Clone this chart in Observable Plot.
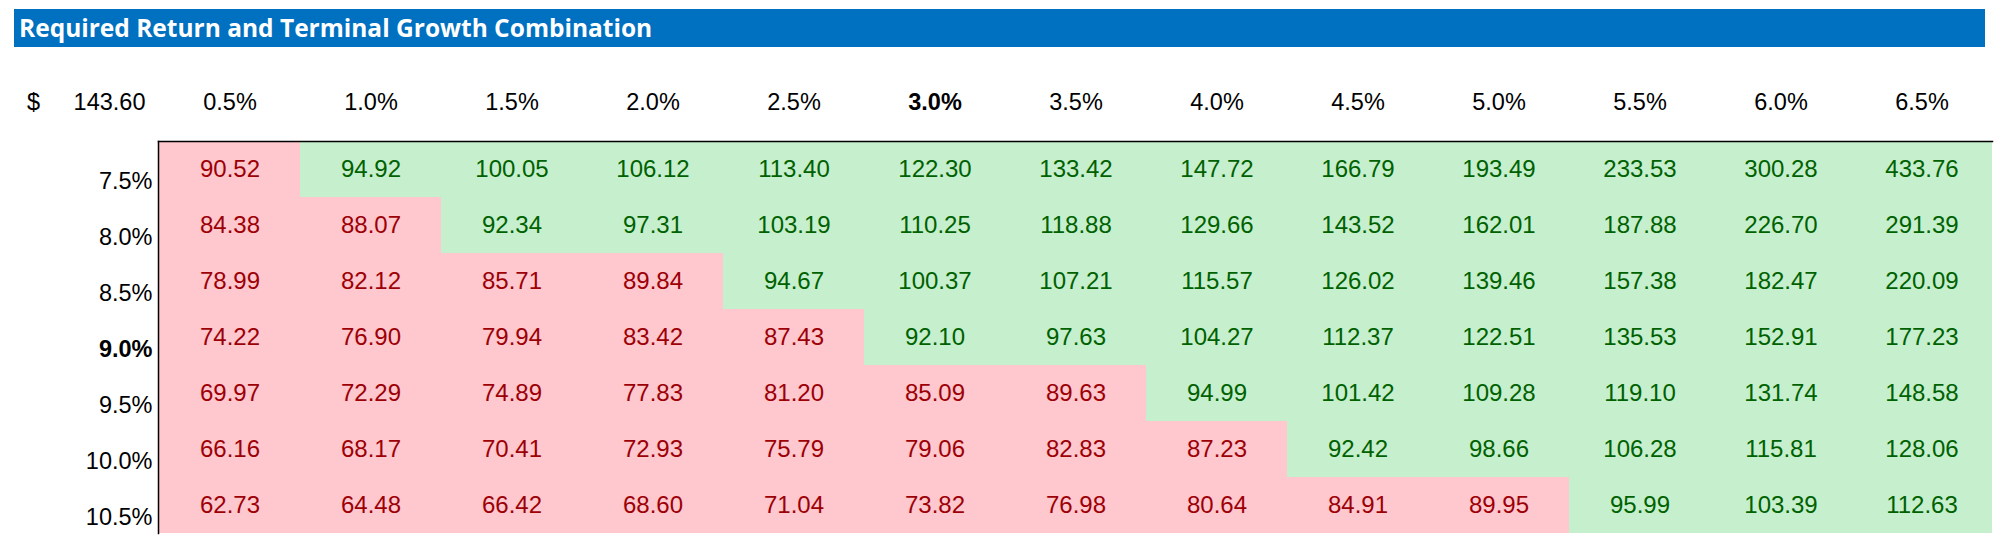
<!DOCTYPE html>
<html>
<head>
<meta charset="utf-8">
<script src="https://cdn.jsdelivr.net/npm/d3@7"></script>
<script src="https://cdn.jsdelivr.net/npm/@observablehq/plot@0.6"></script>
<style>
  html, body { margin: 0; padding: 0; background: #ffffff; }
  #title {
    margin: 9px 14px 0 14px;
    height: 38px;
    background: #0070C0;
    color: #ffffff;
    font-family: "Open Sans", sans-serif;
    font-weight: 700;
    font-size: 24.5px;
    line-height: 38px;
    padding-left: 5px;
    white-space: nowrap;
    overflow: hidden;
  }
  #chart svg { display: block; }
</style>
</head>
<body>
<div id="title">Required Return and Terminal Growth Combination</div>
<div id="chart"></div>
<script>
// Terminal growth rates (columns)
const growthRates = ["0.5%", "1.0%", "1.5%", "2.0%", "2.5%", "3.0%", "3.5%", "4.0%", "4.5%", "5.0%", "5.5%", "6.0%", "6.5%"];
// Required returns (rows)
const requiredReturns = ["7.5%", "8.0%", "8.5%", "9.0%", "9.5%", "10.0%", "10.5%"];
// Base case (bold)
const baseGrowth = "3.0%";
const baseReturn = "9.0%";
// Corner cell
const cornerLabels = ["$", "143.60"];
// Threshold separating red and green cells
const priceThreshold = 91;

// Values per required return row
const row75  = [90.52, 94.92, 100.05, 106.12, 113.40, 122.30, 133.42, 147.72, 166.79, 193.49, 233.53, 300.28, 433.76];
const row80  = [84.38, 88.07, 92.34, 97.31, 103.19, 110.25, 118.88, 129.66, 143.52, 162.01, 187.88, 226.70, 291.39];
const row85  = [78.99, 82.12, 85.71, 89.84, 94.67, 100.37, 107.21, 115.57, 126.02, 139.46, 157.38, 182.47, 220.09];
const row90  = [74.22, 76.90, 79.94, 83.42, 87.43, 92.10, 97.63, 104.27, 112.37, 122.51, 135.53, 152.91, 177.23];
const row95  = [69.97, 72.29, 74.89, 77.83, 81.20, 85.09, 89.63, 94.99, 101.42, 109.28, 119.10, 131.74, 148.58];
const row100 = [66.16, 68.17, 70.41, 72.93, 75.79, 79.06, 82.83, 87.23, 92.42, 98.66, 106.28, 115.81, 128.06];
const row105 = [62.73, 64.48, 66.42, 68.60, 71.04, 73.82, 76.98, 80.64, 84.91, 89.95, 95.99, 103.39, 112.63];

const rows = [row75, row80, row85, row90, row95, row100, row105];

const table = [];
rows.forEach((vals, i) => {
  vals.forEach((v, j) => {
    table.push({ ret: requiredReturns[i], growth: growthRates[j], value: v });
  });
});

const PINK = "#FFC7CE", GREEN = "#C6EFCE", RED_TXT = "#9C0006", GREEN_TXT = "#006100";
const font = "Liberation Sans, Arial, sans-serif";
const labelSize = 23.5;

const chart = Plot.plot({
  width: 1999,
  height: 499,
  marginTop: 94,
  marginBottom: 13,
  marginLeft: 158,
  marginRight: 7,
  x: { type: "band", domain: growthRates, padding: 0, axis: null },
  y: { type: "band", domain: requiredReturns, padding: 0, axis: null },
  color: { type: "identity" },
  marks: [
    Plot.cell(table, {
      x: "growth", y: "ret", inset: 0,
      fill: d => d.value < priceThreshold ? PINK : GREEN
    }),
    Plot.text(table, {
      x: "growth", y: "ret",
      text: d => d.value.toFixed(2),
      fill: d => d.value < priceThreshold ? RED_TXT : GREEN_TXT,
      fontSize: 24, fontFamily: font, lineAnchor: "middle"
    }),
    // column headers
    Plot.text(growthRates.filter(g => g !== baseGrowth), {
      x: d => d, text: d => d, frameAnchor: "top", dy: -39,
      fontSize: labelSize, fontFamily: font, fill: "#000", lineAnchor: "middle"
    }),
    Plot.text([baseGrowth], {
      x: d => d, text: d => d, frameAnchor: "top", dy: -39,
      fontSize: labelSize, fontFamily: font, fontWeight: "bold", fill: "#000", lineAnchor: "middle"
    }),
    // row labels
    Plot.text(requiredReturns.filter(r => r !== baseReturn), {
      y: d => d, text: d => d, frameAnchor: "left", dx: -6, dy: 12,
      textAnchor: "end", fontSize: labelSize, fontFamily: font, fill: "#000", lineAnchor: "middle"
    }),
    Plot.text([baseReturn], {
      y: d => d, text: d => d, frameAnchor: "left", dx: -6, dy: 12,
      textAnchor: "end", fontSize: labelSize, fontFamily: font, fontWeight: "bold", fill: "#000", lineAnchor: "middle"
    }),
    // corner labels
    Plot.text([cornerLabels[0]], {
      text: d => d, frameAnchor: "top-left", dx: -125, dy: -39,
      textAnchor: "middle", fontSize: labelSize, fontFamily: font, fill: "#000", lineAnchor: "middle"
    }),
    Plot.text([cornerLabels[1]], {
      text: d => d, frameAnchor: "top-left", dx: -13, dy: -39,
      textAnchor: "end", fontSize: labelSize, fontFamily: font, fill: "#000", lineAnchor: "middle"
    }),
    // borders
    Plot.frame({ anchor: "top", stroke: "#000", strokeWidth: 1.5 }),
    Plot.frame({ anchor: "left", stroke: "#000", strokeWidth: 1.5 })
  ]
});
document.getElementById("chart").appendChild(chart);
</script>
</body>
</html>
